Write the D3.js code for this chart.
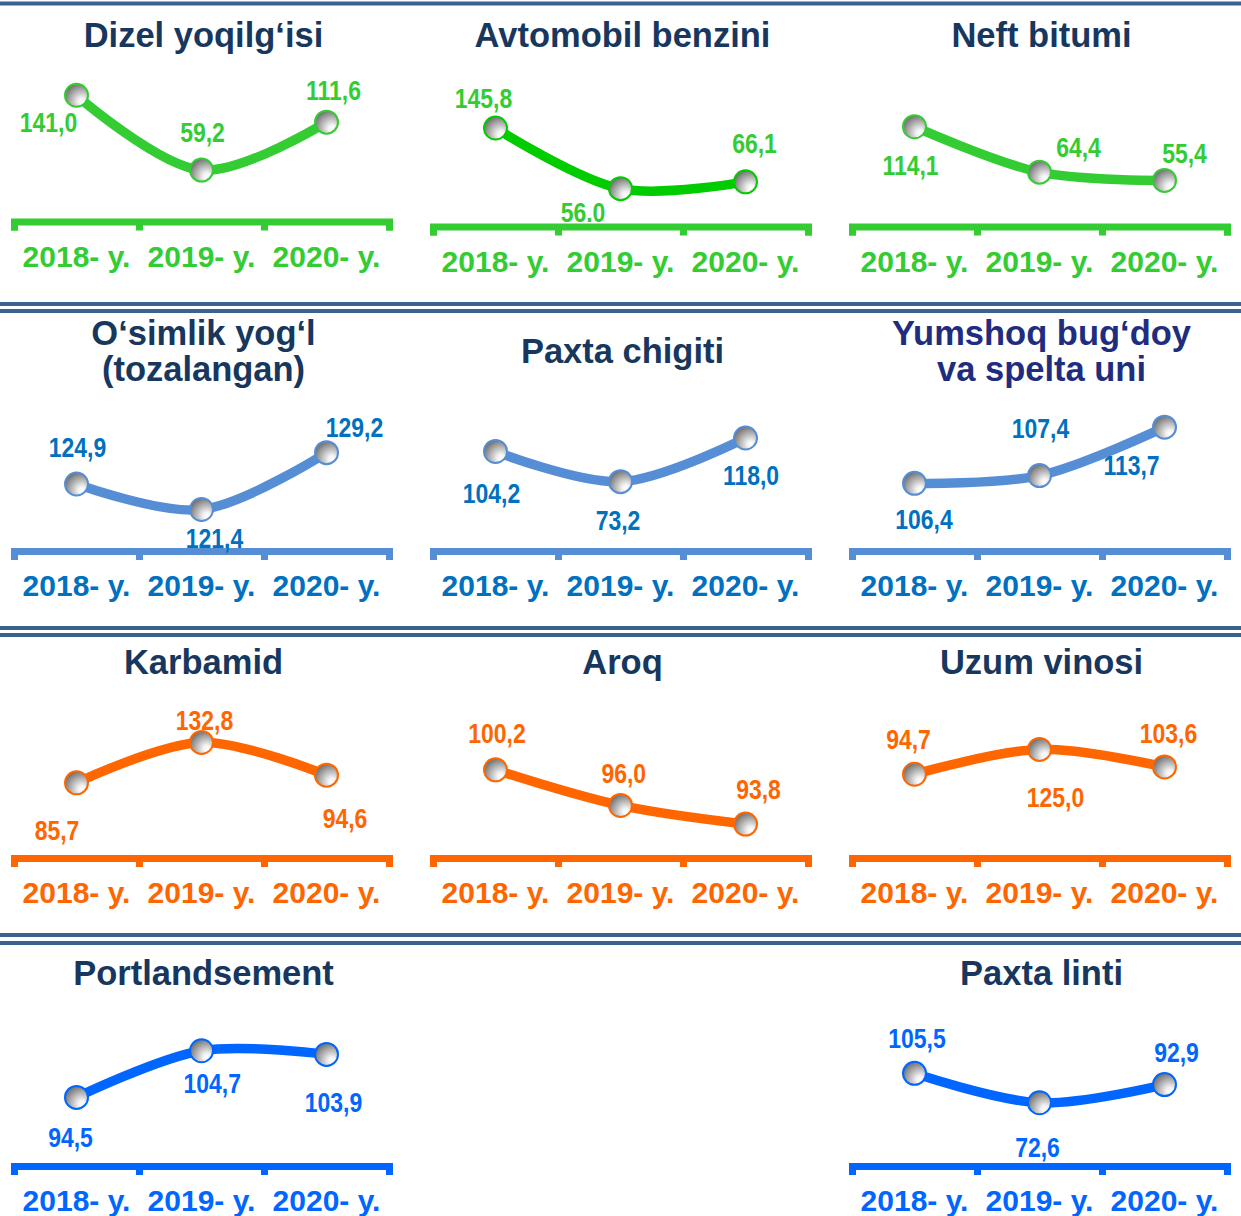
<!DOCTYPE html>
<html><head><meta charset="utf-8">
<script src="https://cdn.jsdelivr.net/npm/d3@7"></script>
<style>html,body{margin:0;padding:0;background:#fff;}svg{display:block;}</style>
</head><body>
<svg id="c" width="1241" height="1216"></svg>
<script>
// ---------- DATA ----------
const years = ["2018- y.", "2019- y.", "2020- y."];
const titles = [
  ["Dizel yoqilg‘isi"], ["Avtomobil benzini"], ["Neft bitumi"],
  ["O‘simlik yog‘l", "(tozalangan)"], ["Paxta chigiti"], ["Yumshoq bug‘doy", "va spelta uni"],
  ["Karbamid"], ["Aroq"], ["Uzum vinosi"],
  ["Portlandsement"], ["Paxta linti"]
];
const dizel = [141.0, 59.2, 111.6];
const benzin = [145.8, 56.0, 66.1];
const bitum = [114.1, 64.4, 55.4];
const osimlikYogi = [124.9, 121.4, 129.2];
const paxtaChigiti = [104.2, 73.2, 118.0];
const bugdoyUni = [106.4, 107.4, 113.7];
const karbamid = [85.7, 132.8, 94.6];
const aroq = [100.2, 96.0, 93.8];
const uzumVinosi = [94.7, 125.0, 103.6];
const portlandsement = [94.5, 104.7, 103.9];
const paxtaLinti = [105.5, 72.6, 92.9];
const series = [dizel, benzin, bitum, osimlikYogi, paxtaChigiti, bugdoyUni, karbamid, aroq, uzumVinosi, portlandsement, paxtaLinti];
// decimal mark used in each printed label (one label in the source uses a point)
const decimalMarks = [
  [",", ",", ","], [",", ".", ","], [",", ",", ","],
  [",", ",", ","], [",", ",", ","], [",", ",", ","],
  [",", ",", ","], [",", ",", ","], [",", ",", ","],
  [",", ",", ","], [",", ",", ","]
];

// ---------- LAYOUT / STYLE ----------
const colX = [14, 433, 852];
const axisW = 375;
const titleBase = [47, 345, 674, 985];
const themes = {
  green:  {line: "#33cc33", axis: "#33cc33", text: "#33cc33"},
  green2: {line: "#00cc00", axis: "#33cc33", text: "#33cc33"},
  blue:   {line: "#558ed5", axis: "#558ed5", text: "#0070c0"},
  orange: {line: "#ff6600", axis: "#ff6600", text: "#ff6600"},
  bright: {line: "#0066ff", axis: "#0066ff", text: "#0066ff"}
};
const layout = [
  {col:0,row:0,axisY:221.5,dom:[3,167],theme:"green",off:[[-28,36.4],[1,-28.4],[7,-22.2]]},
  {col:1,row:0,axisY:226.5,dom:[0,222],theme:"green2",off:[[-12,-20],[-37.5,33],[9,-28.5]]},
  {col:2,row:0,axisY:226.5,dom:[5,169],theme:"green",off:[[-4,48.3],[39,-15.5],[20,-17.1]]},
  {col:0,row:1,axisY:551,dom:[115.7,136.3],theme:"blue",off:[[1,-27.3],[13,38.8],[28,-15.4]]},
  {col:1,row:1,axisY:551,dom:[2,156],theme:"blue",off:[[-4,51.8],[-2.5,48.3],[5.5,47]]},
  {col:2,row:1,axisY:551,dom:[97.6,117.1],theme:"blue",titleColor:"#1f2d80",off:[[9.5,46],[1,-37.3],[-33,47.8]]},
  {col:0,row:2,axisY:858,dom:[-2,173],theme:"orange",off:[[-19.5,57],[3,-12.5],[18.5,53]]},
  {col:1,row:2,axisY:858,dom:[89.8,107.5],theme:"orange",off:[[1.5,-27.2],[3.3,-22.2],[13,-24.8]]},
  {col:2,row:2,axisY:858,dom:[-7.5,175.5],theme:"orange",off:[[-6,-24.9],[16,57.3],[4,-24.2]]},
  {col:0,row:3,axisY:1166,dom:[79.5,112.3],theme:"bright",off:[[-6,49.3],[10.7,42.5],[7,57.3]]},
  {col:2,row:3,axisY:1166,dom:[2,169.5],theme:"bright",off:[[2.5,-25],[-2,53.9],[12,-22.9]]}
];

const svg = d3.select("#c");
const FONT = "'Liberation Sans', Arial, Helvetica, sans-serif";

// gradient for markers
const defs = svg.append("defs");
const g = defs.append("radialGradient").attr("id", "ball")
  .attr("cx", "72%").attr("cy", "76%").attr("r", "90%").attr("fx", "74%").attr("fy", "78%");
g.append("stop").attr("offset", "0%").attr("stop-color", "#ffffff");
g.append("stop").attr("offset", "18%").attr("stop-color", "#f2f2f2");
g.append("stop").attr("offset", "100%").attr("stop-color", "#5c5c5c");

// separators
const sepColor = "#3a6291";
svg.append("rect").attr("x", 0).attr("y", 1.5).attr("width", 1241).attr("height", 4).attr("fill", sepColor);
[[302, 309], [626, 633], [933, 941]].forEach(p => p.forEach(y =>
  svg.append("rect").attr("x", 0).attr("y", y).attr("width", 1241).attr("height", 4).attr("fill", sepColor)));

layout.forEach((L, i) => {
  const th = themes[L.theme];
  const x0 = colX[L.col];
  const vals = series[i];
  const p = svg.append("g");

  const x = d3.scaleBand().domain(years).range([x0, x0 + axisW]).padding(0);
  const xb = d3.scaleLinear().domain([0, years.length]).range([x0, x0 + axisW]);
  const y = d3.scaleLinear().domain(L.dom).range([L.axisY, L.axisY - 150]);

  // title
  const tl = titles[i];
  let tb = titleBase[L.row];
  if (L.row === 1 && tl.length === 1) tb += 18;
  p.append("text").attr("x", x0 + axisW / 2 + 2).attr("y", tb)
    .attr("text-anchor", "middle").attr("font-family", FONT).attr("font-weight", "bold")
    .attr("font-size", 34.5).attr("fill", L.titleColor || "#17375e")
    .selectAll("tspan").data(tl).join("tspan")
    .attr("x", x0 + axisW / 2 + 2).attr("dy", (d, k) => k ? 36 : 0).text(d => d);

  // axis line with boundary ticks
  const ax = p.append("g").attr("transform", `translate(0,${L.axisY})`)
    .call(d3.axisBottom(xb).tickValues(d3.range(0, years.length + 1)).tickFormat("").tickSizeInner(9).tickSizeOuter(9));
  ax.selectAll("path.domain").attr("stroke", th.axis).attr("stroke-width", 7).attr("fill", "none");
  ax.selectAll(".tick line").attr("stroke", th.axis).attr("stroke-width", 7);

  // category labels
  const cat = p.append("g").attr("transform", `translate(0,${L.axisY})`)
    .call(d3.axisBottom(x).tickSize(0).tickPadding(0));
  cat.select("path.domain").remove();
  cat.selectAll(".tick text").attr("y", 45).attr("dy", 0)
    .attr("font-family", FONT).attr("font-weight", "bold").attr("font-size", 30)
    .attr("fill", th.text);

  // smoothed line
  const pts = vals.map((v, k) => [x(years[k]) + x.bandwidth() / 2, y(v)]);
  p.append("path").attr("d", d3.line().curve(d3.curveCatmullRom.alpha(0.5))(pts))
    .attr("fill", "none").attr("stroke", th.line).attr("stroke-width", 9.5).attr("stroke-linecap", "round");

  // markers
  p.selectAll("circle").data(pts).join("circle")
    .attr("cx", d => d[0]).attr("cy", d => d[1]).attr("r", 11.5)
    .attr("fill", "url(#ball)").attr("stroke", th.line).attr("stroke-width", 2);

  // value labels (narrow bold)
  p.selectAll("text.val").data(vals).join("text").attr("class", "val")
    .attr("x", (d, k) => pts[k][0] + L.off[k][0])
    .attr("y", (d, k) => pts[k][1] + L.off[k][1])
    .attr("text-anchor", "middle").attr("font-family", FONT).attr("font-weight", "bold")
    .attr("font-size", 28).attr("fill", th.text)
    .text((d, k) => d3.format(".1f")(d).replace(".", decimalMarks[i][k]))
    .each(function () {
      const w = this.getComputedTextLength();
      d3.select(this).attr("textLength", w * 0.82).attr("lengthAdjust", "spacingAndGlyphs");
    });
});
</script>
</body></html>
